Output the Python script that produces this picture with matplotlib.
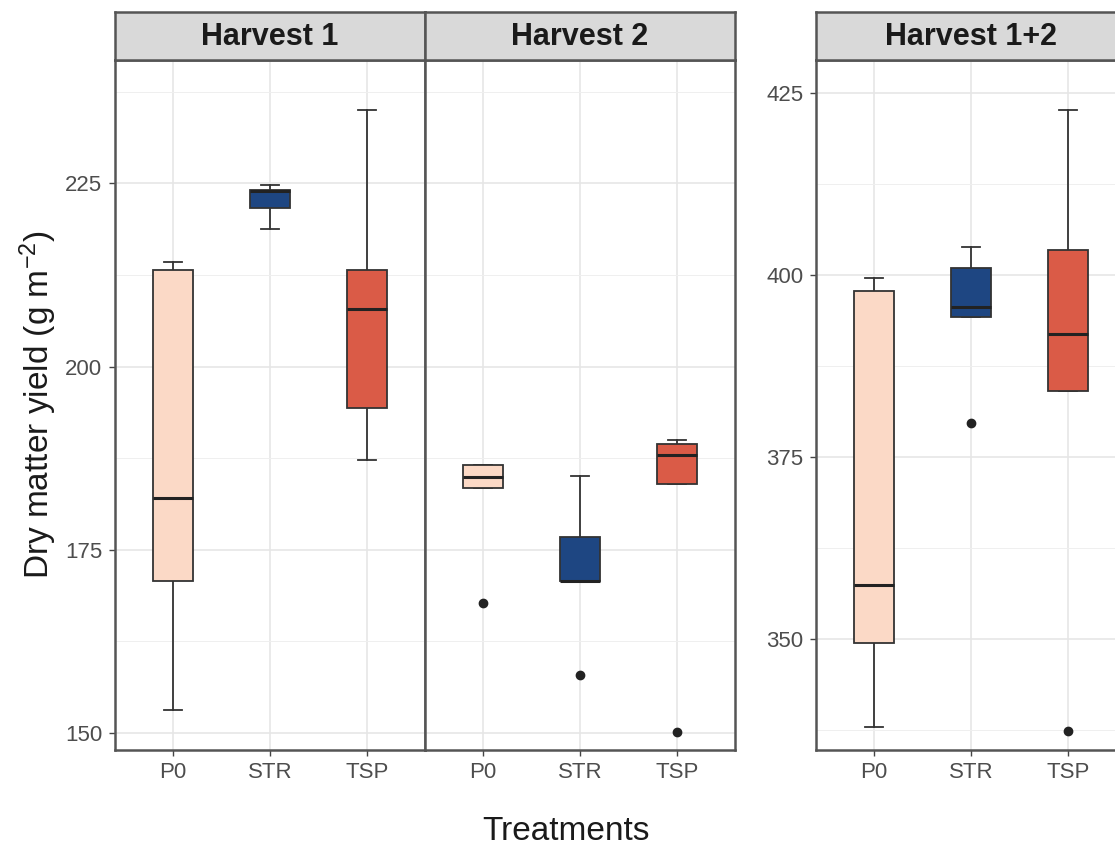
import matplotlib.pyplot as plt
from matplotlib.ticker import MultipleLocator

plt.rcParams['font.family'] = ['Liberation Sans', 'DejaVu Sans']
plt.rcParams['mathtext.fontset'] = 'custom'
plt.rcParams['mathtext.rm'] = 'Liberation Sans'
plt.rcParams['mathtext.it'] = 'Liberation Sans:italic'

treatments = ['P0', 'STR', 'TSP']
colors = ['#FBD9C6', '#1E4682', '#DA5B47']
panels = ['Harvest 1', 'Harvest 2', 'Harvest 1+2']

# box stats per panel: lower whisker, q1, median, q3, upper whisker, outliers
h1_lo = [153.1, 218.7, 187.2]
h1_q1 = [170.8, 221.6, 194.3]
h1_med = [182.0, 223.9, 207.8]
h1_q3 = [213.1, 224.1, 213.1]
h1_hi = [214.2, 224.7, 235.0]
h1_out = [[], [], []]

h2_lo = [183.4, 170.8, 184.0]
h2_q1 = [183.4, 170.8, 184.0]
h2_med = [184.9, 170.8, 187.9]
h2_q3 = [186.6, 176.8, 189.4]
h2_hi = [186.6, 185.1, 190.0]
h2_out = [[167.7], [157.9], [150.2]]

h12_lo = [338.0, 394.2, 384.1]
h12_q1 = [349.5, 394.2, 384.1]
h12_med = [357.4, 395.6, 391.9]
h12_q3 = [397.8, 401.0, 403.4]
h12_hi = [399.6, 403.8, 422.7]
h12_out = [[], [379.7], [337.4]]

data = [
    (h1_lo, h1_q1, h1_med, h1_q3, h1_hi, h1_out),
    (h2_lo, h2_q1, h2_med, h2_q3, h2_hi, h2_out),
    (h12_lo, h12_q1, h12_med, h12_q3, h12_hi, h12_out),
]

W, H = 1115, 848
fig = plt.figure(figsize=(W / 100, H / 100), dpi=100)

def fx(px):
    return px / W

def fy(py):
    return 1 - py / H

top, bot, strip_top = 60, 750, 12
lefts = [115, 425, 816]
width = 310
ylims = [(147.7, 241.8), (147.7, 241.8), (334.8, 429.5)]

border = '#555555'
for i in range(3):
    ax = fig.add_axes([fx(lefts[i]), fy(bot), fx(width), fy(top) - fy(bot)])
    lo, q1, med, q3, hi, out = data[i]
    stats = []
    for j in range(3):
        stats.append({'whislo': lo[j], 'q1': q1[j], 'med': med[j], 'q3': q3[j],
                      'whishi': hi[j], 'fliers': out[j]})
    bp = ax.bxp(stats, positions=[1, 2, 3], widths=0.42, capwidths=0.19,
                patch_artist=True,
                boxprops=dict(edgecolor='#333333', linewidth=1.3, zorder=3),
                medianprops=dict(color='#222222', linewidth=2.2, zorder=4),
                whiskerprops=dict(color='#333333', linewidth=1.3),
                capprops=dict(color='#333333', linewidth=1.3),
                flierprops=dict(marker='o', markerfacecolor='#222222',
                                markeredgecolor='#222222', markersize=6))
    for patch, c in zip(bp['boxes'], colors):
        patch.set_facecolor(c)
    ax.set_xlim(0.4, 3.6)
    ax.set_ylim(*ylims[i])
    ax.set_xticks([1, 2, 3])
    ax.set_xticklabels(treatments)
    ax.yaxis.set_major_locator(MultipleLocator(25))
    ax.yaxis.set_minor_locator(MultipleLocator(12.5))
    ax.grid(True, which='major', color='#E6E6E6', linewidth=1.2, zorder=0)
    ax.grid(True, which='minor', axis='y', color='#EFEFEF', linewidth=0.7, zorder=0)
    ax.set_axisbelow(True)
    ax.tick_params(axis='both', which='major', labelsize=16, labelcolor='#4D4D4D',
                   color='#444444', length=4, width=1, pad=5)
    ax.tick_params(axis='y', which='minor', length=0)
    if i == 1:
        ax.tick_params(axis='y', which='major', length=0, labelleft=False)
    for s in ax.spines.values():
        s.set_color(border)
        s.set_linewidth(1.8)

    sax = fig.add_axes([fx(lefts[i]), fy(top), fx(width), fy(strip_top) - fy(top)])
    sax.set_facecolor('#D9D9D9')
    sax.set_xticks([])
    sax.set_yticks([])
    for s in sax.spines.values():
        s.set_color(border)
        s.set_linewidth(1.8)
    sax.text(0.5, 0.47, panels[i], ha='center', va='center', fontsize=22,
             fontweight='bold', color='#1A1A1A', transform=sax.transAxes)

fig.text(fx(38), fy((top + bot) / 2), r'Dry matter yield (g m$^{-2}$)',
         rotation=90, ha='center', va='center', fontsize=24, color='#1A1A1A')
fig.text(fx(566), fy(832), 'Treatments', ha='center', va='center',
         fontsize=24, color='#1A1A1A')

fig.savefig('out.png', dpi=100)
